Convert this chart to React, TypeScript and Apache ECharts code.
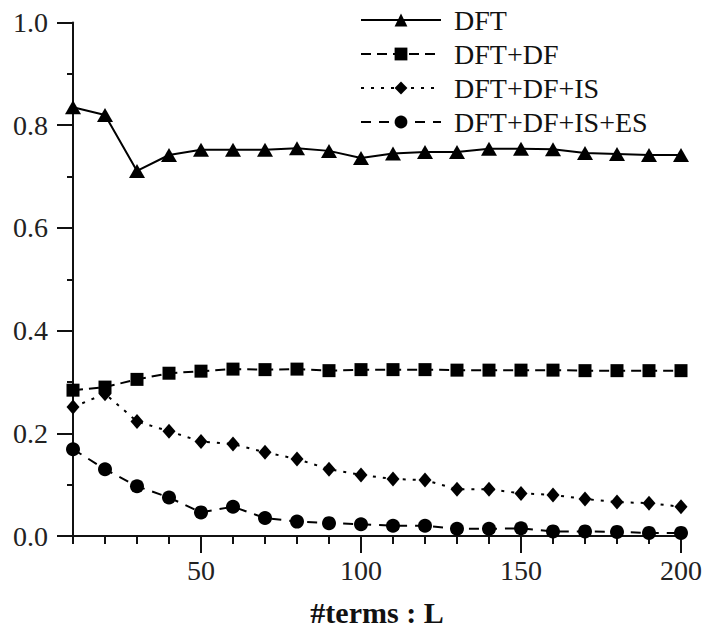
import React, { useEffect, useRef } from 'react';
import * as echarts from 'echarts';

const termsL = [10, 20, 30, 40, 50, 60, 70, 80, 90, 100, 110, 120, 130, 140, 150, 160, 170, 180, 190, 200];
const dft = [0.835, 0.82, 0.711, 0.742, 0.752, 0.752, 0.752, 0.755, 0.75, 0.736, 0.745, 0.748, 0.748, 0.754, 0.754, 0.753, 0.746, 0.744, 0.742, 0.742];
const dftDf = [0.284, 0.29, 0.305, 0.317, 0.321, 0.325, 0.324, 0.325, 0.322, 0.324, 0.324, 0.324, 0.323, 0.323, 0.323, 0.323, 0.322, 0.322, 0.322, 0.322];
const dftDfIs = [0.251, 0.277, 0.223, 0.204, 0.184, 0.179, 0.163, 0.15, 0.13, 0.119, 0.111, 0.109, 0.091, 0.091, 0.083, 0.08, 0.072, 0.066, 0.064, 0.057];
const dftDfIsEs = [0.169, 0.13, 0.097, 0.075, 0.046, 0.057, 0.035, 0.028, 0.025, 0.023, 0.02, 0.02, 0.014, 0.014, 0.015, 0.009, 0.009, 0.008, 0.006, 0.006];
const seriesNames = ['DFT', 'DFT+DF', 'DFT+DF+IS', 'DFT+DF+IS+ES'];
const xMajorTicks = [50, 100, 150, 200];
const xAxisTitle = '#terms : L';

const FONT = 'Liberation Serif';
const INK = '#111';

export default function App() {
  const ref = useRef<HTMLDivElement>(null);
  useEffect(() => {
    const chart = echarts.init(ref.current!, null, { renderer: 'svg' });
    const pair = (ys: number[]) => termsL.map((x, i) => [x, ys[i]]);
    const mk = (name: string, ys: number[], symbol: string, size: any, lineType: any) => ({
      name,
      type: 'line',
      data: pair(ys),
      symbol,
      symbolSize: size,
      showAllSymbol: true,
      itemStyle: { color: '#000' },
      lineStyle: { color: '#000', width: 2, type: lineType },
      emphasis: { disabled: true },
    });
    chart.setOption({
      animation: false,
      backgroundColor: '#fff',
      textStyle: { fontFamily: FONT },
      grid: { left: 73, right: 25, top: 22.5, bottom: 93, containLabel: false, outerBoundsMode: 'none' },
      legend: {
        orient: 'vertical',
        left: 360,
        top: 3,
        padding: 0,
        itemWidth: 80,
        itemHeight: 16,
        itemGap: 0,
        data: seriesNames,
        textStyle: { fontFamily: FONT, fontSize: 28, color: INK, lineHeight: 34, padding: [0, 0, 0, 8] },
        selectedMode: false,
      },
      xAxis: [
        {
          type: 'value',
          min: 10,
          max: 200,
          interval: 10,
          name: xAxisTitle,
          nameLocation: 'middle',
          nameGap: 61,
          nameTextStyle: { fontFamily: FONT, fontSize: 30, lineHeight: 30, fontWeight: 'bold', color: INK },
          axisLine: { show: true, lineStyle: { color: INK, width: 2 } },
          axisTick: { show: true, length: 8, lineStyle: { color: INK, width: 2 } },
          axisLabel: {
            fontFamily: FONT,
            fontSize: 28,
            color: '#222',
            margin: 20,
            formatter: (v: number) => (xMajorTicks.includes(v) ? String(v) : ''),
          },
          splitLine: { show: false },
        },
        {
          type: 'value',
          min: 10,
          max: 200,
          interval: 10,
          position: 'bottom',
          axisLine: { show: false },
          axisTick: { show: true, length: 17, customValues: xMajorTicks, lineStyle: { color: INK, width: 2 } },
          axisLabel: { show: false },
          splitLine: { show: false },
        },
      ],
      yAxis: {
        type: 'value',
        min: 0,
        max: 1,
        interval: 0.2,
        axisLine: { show: true, lineStyle: { color: INK, width: 2 } },
        axisTick: { show: true, length: 16, lineStyle: { color: INK, width: 2 } },
        minorTick: { show: true, splitNumber: 2, length: 6, lineStyle: { color: INK, width: 2 } },
        axisLabel: {
          fontFamily: FONT,
          fontSize: 28,
          color: '#222',
          margin: 25,
          formatter: (v: number) => v.toFixed(1),
        },
        splitLine: { show: false },
        minorSplitLine: { show: false },
      },
      series: [
        mk(seriesNames[0], dft, 'triangle', [16, 14], 'solid'),
        mk(seriesNames[1], dftDf, 'rect', 13, [10, 6]),
        mk(seriesNames[2], dftDfIs, 'diamond', [13, 15], [3, 7]),
        mk(seriesNames[3], dftDfIsEs, 'circle', 14, [10, 8]),
      ],
    });
    return () => chart.dispose();
  }, []);
  return <div ref={ref} style={{ position: 'fixed', left: 0, top: 0, width: 706, height: 629 }} />;
}
